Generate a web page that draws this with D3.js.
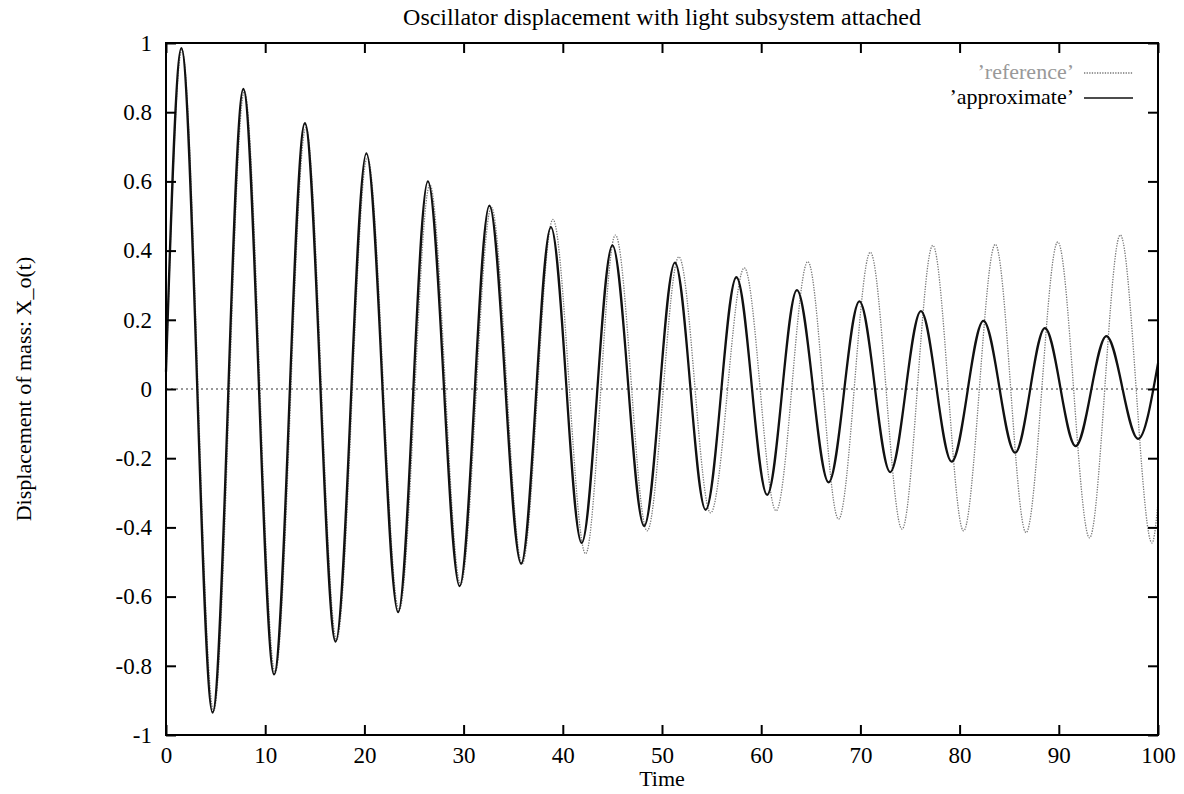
<!doctype html>
<html lang="en">
<head>
  <meta charset="utf-8">
  <title>Oscillator displacement</title>
  <script src="https://d3js.org/d3.v7.min.js"></script>
  <style>
    html, body {
      margin: 0; padding: 0;
      background: #fff;
    }
    svg { display: block; }
    text { font-family: "Liberation Serif", "DejaVu Serif", serif; fill: #000; }
    .tick-label { font-size: 23px; }
    .zero { stroke: #333; stroke-width: 1.2; stroke-dasharray: 2 3; fill: none; }
    .ref  { stroke: #777; stroke-width: 1.3; stroke-dasharray: 1.3 1.3; fill: none; }
    .approx { stroke: #111; stroke-width: 2.3; fill: none; }
  </style>
</head>
<body>
  <div id="chart"></div>

  <script>
    // extrema (time, displacement)
    const approxT = [0, 1.55, 4.7, 7.8, 10.9, 14.0, 17.1, 20.2, 23.4, 26.4, 29.6, 32.6, 35.8, 38.8, 41.9,
                     45.0, 48.2, 51.3, 54.4, 57.5, 60.6, 63.6, 66.8, 69.9, 73.0, 76.1, 79.2, 82.4, 85.6,
                     88.6, 91.7, 94.8, 98.0, 100];
    const approxX = [0.05, 0.985, -0.935, 0.867, -0.825, 0.768, -0.73, 0.681, -0.645, 0.60, -0.57, 0.53,
                     -0.505, 0.468, -0.445, 0.415, -0.396, 0.365, -0.349, 0.323, -0.306, 0.286, -0.27,
                     0.253, -0.24, 0.225, -0.21, 0.197, -0.184, 0.176, -0.165, 0.153, -0.144, 0.074];

    const refT = [0, 1.6, 4.8, 7.9, 11.0, 14.1, 17.2, 20.3, 23.5, 26.6, 29.7, 32.8, 35.9, 39.0, 42.3,
                  45.3, 48.5, 51.7, 54.9, 58.3, 61.5, 64.7, 67.8, 71.0, 74.2, 77.3, 80.4, 83.6, 86.7,
                  89.9, 93.1, 96.2, 99.4, 100];
    const refX = [0.04, 0.98, -0.93, 0.86, -0.82, 0.755, -0.725, 0.67, -0.64, 0.59, -0.565, 0.525,
                  -0.505, 0.49, -0.476, 0.445, -0.41, 0.382, -0.358, 0.35, -0.352, 0.368, -0.376,
                  0.395, -0.405, 0.415, -0.41, 0.418, -0.415, 0.425, -0.43, 0.445, -0.445, -0.33];

    const xTicks = [0, 10, 20, 30, 40, 50, 60, 70, 80, 90, 100];
    const yTicks = [-1, -0.8, -0.6, -0.4, -0.2, 0, 0.2, 0.4, 0.6, 0.8, 1];

    const width = 1184, height = 794;
    const margin = { top: 43, right: 26, bottom: 59, left: 166 };
    const innerW = width - margin.left - margin.right;
    const innerH = height - margin.top - margin.bottom;

    const svg = d3.select('#chart').append('svg')
      .attr('width', width).attr('height', height);
    const g = svg.append('g')
      .attr('transform', `translate(${margin.left},${margin.top})`);

    const x = d3.scaleLinear().domain([0, 100]).range([0, innerW]);
    const y = d3.scaleLinear().domain([-1, 1]).range([innerH, 0]);

    // zero axis
    g.append('line').attr('class', 'zero')
      .attr('x1', x(0)).attr('x2', x(100))
      .attr('y1', y(0)).attr('y2', y(0));

    const line = d3.line()
      .x(d => x(d[0])).y(d => y(d[1]))
      .curve(d3.curveMonotoneX);

    g.append('path').attr('class', 'ref')
      .datum(refT.map((t, i) => [t, refX[i]]))
      .attr('d', line);
    g.append('path').attr('class', 'approx')
      .datum(approxT.map((t, i) => [t, approxX[i]]))
      .attr('d', line);

    // axes, gnuplot style: ticks inward and mirrored
    const tickLen = 10;
    const axisStyle = sel => {
      sel.select('.domain').remove();
      sel.selectAll('.tick line').attr('stroke', '#000').attr('stroke-width', 2);
      sel.selectAll('.tick text').attr('class', 'tick-label');
    };
    g.append('g').attr('transform', `translate(0,${innerH})`)
      .call(d3.axisBottom(x).tickValues(xTicks).tickFormat(d3.format('d'))
        .tickSizeInner(-tickLen).tickSizeOuter(0).tickPadding(12))
      .call(axisStyle);
    g.append('g')
      .call(d3.axisTop(x).tickValues(xTicks).tickSizeInner(-tickLen).tickSizeOuter(0).tickFormat(''))
      .call(axisStyle);
    g.append('g')
      .call(d3.axisLeft(y).tickValues(yTicks).tickFormat(d => d3.format('')(d).replace('−', '-'))
        .tickSizeInner(-tickLen).tickSizeOuter(0).tickPadding(14))
      .call(axisStyle);
    g.append('g').attr('transform', `translate(${innerW},0)`)
      .call(d3.axisRight(y).tickValues(yTicks).tickSizeInner(-tickLen).tickSizeOuter(0).tickFormat(''))
      .call(axisStyle);

    g.append('rect')
      .attr('width', innerW).attr('height', innerH)
      .attr('fill', 'none').attr('stroke', '#000').attr('stroke-width', 2);

    // title and axis labels
    svg.append('text')
      .attr('x', margin.left + innerW / 2).attr('y', 25)
      .attr('text-anchor', 'middle').style('font-size', '24px')
      .text('Oscillator displacement with light subsystem attached');
    svg.append('text')
      .attr('x', margin.left + innerW / 2).attr('y', 786)
      .attr('text-anchor', 'middle').style('font-size', '22px')
      .text('Time');
    svg.append('text')
      .attr('transform', `translate(31,${margin.top + innerH / 2}) rotate(-90)`)
      .attr('text-anchor', 'middle').style('font-size', '22px')
      .text('Displacement of mass: X_o(t)');

    // legend
    const legend = [
      { name: '’reference’', cls: 'ref', color: '#999' },
      { name: '’approximate’', cls: 'approx', color: '#000' }
    ];
    const lg = svg.append('g').attr('transform', 'translate(1074,73)');
    legend.forEach((d, i) => {
      const row = lg.append('g').attr('transform', `translate(0,${i * 25})`);
      row.append('text').attr('x', 0).attr('y', 6)
        .attr('text-anchor', 'end').style('font-size', '22px')
        .style('fill', d.color).text(d.name);
      row.append('line').attr('class', d.cls)
        .attr('x1', 10).attr('x2', 59).attr('y1', 0).attr('y2', 0)
        .style('stroke-width', d.cls === 'approx' ? 1.6 : null);
    });
  </script>
</body>
</html>
